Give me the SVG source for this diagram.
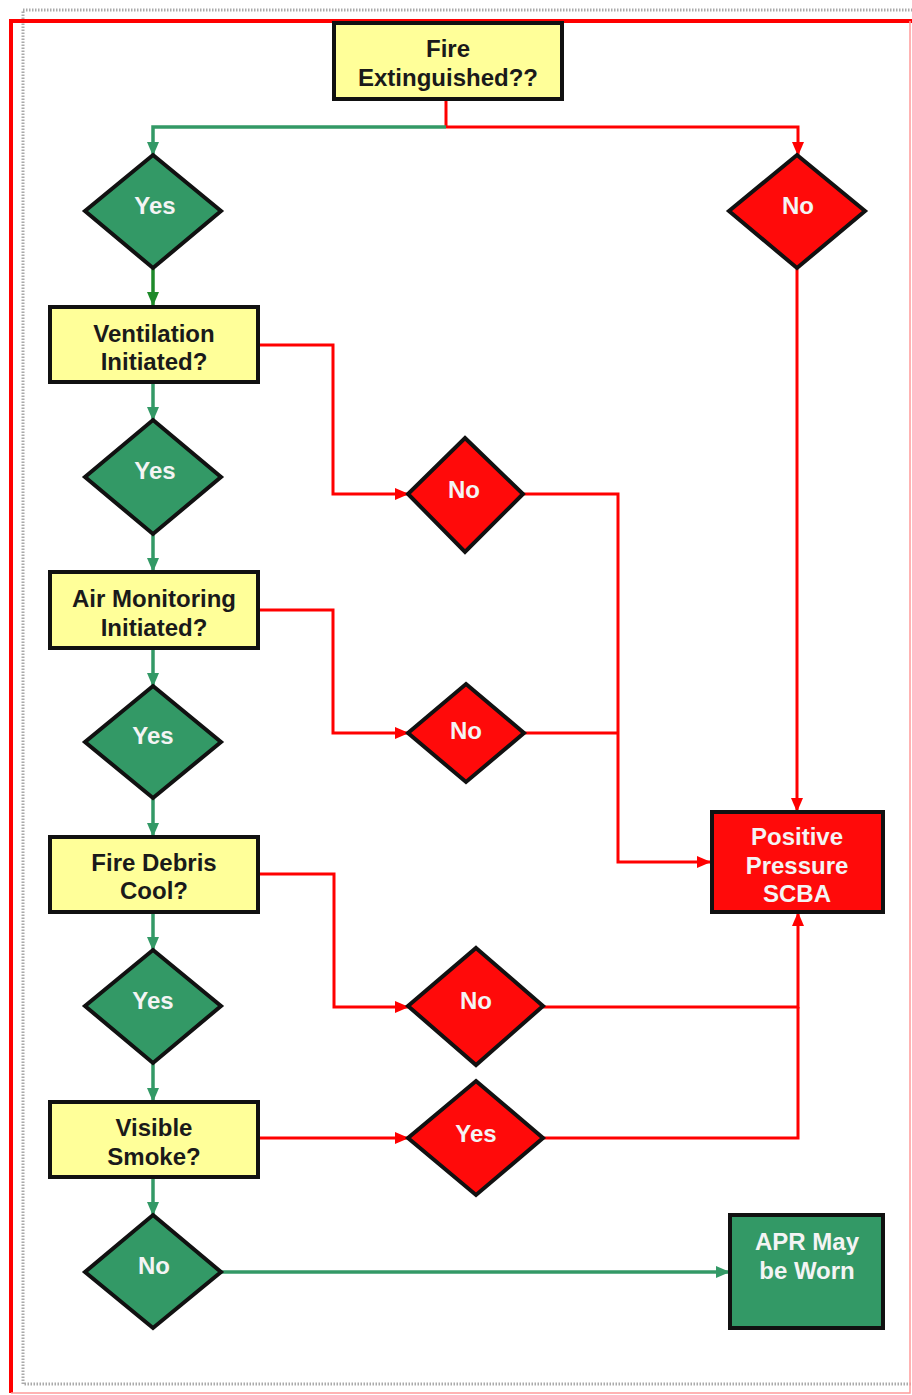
<svg xmlns="http://www.w3.org/2000/svg" width="912" height="1395" viewBox="0 0 912 1395">
<style>
text{font-family:"Liberation Sans",Arial,sans-serif;font-weight:bold;font-size:24px;text-anchor:middle}
.box{fill:#ffff99;stroke:#111;stroke-width:4}
.dk{fill:#1a1a1a}
.wt{fill:#f4f4f4}
.gd{fill:#339966;stroke:#111;stroke-width:4;stroke-linejoin:miter}
.rd{fill:#ff0a0a;stroke:#111;stroke-width:4;stroke-linejoin:miter}
.gl{fill:none;stroke:#339966;stroke-width:3.5}
.rl{fill:none;stroke:#ff0000;stroke-width:3}
</style>
<defs>
<marker id="ag" markerUnits="userSpaceOnUse" markerWidth="14" markerHeight="12" refX="13" refY="6" orient="auto"><path d="M0,0 L14,6 L0,12 z" fill="#339966"/></marker>
<marker id="adg" markerUnits="userSpaceOnUse" markerWidth="14" markerHeight="12" refX="13" refY="6" orient="auto"><path d="M0,0 L14,6 L0,12 z" fill="#1e8a2a"/></marker>
<marker id="ar" markerUnits="userSpaceOnUse" markerWidth="14" markerHeight="12" refX="13" refY="6" orient="auto"><path d="M0,0 L14,6 L0,12 z" fill="#ff0000"/></marker>
</defs>
<rect width="912" height="1395" fill="#ffffff"/>
<g id="frame">
<rect x="23" y="10" width="900" height="1374" fill="none" stroke="#aaaaaa" stroke-width="3" stroke-dasharray="1.5 1.5"/>
<path d="M11,1393 L11,21 L912,21" fill="none" stroke="#ff0000" stroke-width="4"/>
<path d="M910,21 L910,1393 L11,1393" fill="none" stroke="#ff9a9a" stroke-width="1.5"/>
</g>
<g id="connectors">
<path class="rl" d="M446,100 L446,127"/>
<path class="gl" d="M446,127 L153,127 L153,155" marker-end="url(#ag)"/>
<path class="rl" d="M446,127 L798,127 L798,155" marker-end="url(#ar)"/>
<path d="M153,268 L153,305" fill="none" stroke="#1e8a2a" stroke-width="3.5" marker-end="url(#adg)"/>
<path class="gl" d="M153,383 L153,420" marker-end="url(#ag)"/>
<path class="gl" d="M153,534 L153,571" marker-end="url(#ag)"/>
<path class="gl" d="M153,649 L153,686" marker-end="url(#ag)"/>
<path class="gl" d="M153,798 L153,836" marker-end="url(#ag)"/>
<path class="gl" d="M153,913 L153,950" marker-end="url(#ag)"/>
<path class="gl" d="M153,1063 L153,1101" marker-end="url(#ag)"/>
<path class="gl" d="M153,1178 L153,1215" marker-end="url(#ag)"/>
<path class="gl" d="M221,1272 L729,1272" marker-end="url(#ag)"/>
<path class="rl" d="M259,345 L333,345 L333,494 L408,494" marker-end="url(#ar)"/>
<path class="rl" d="M259,610 L333,610 L333,733 L408,733" marker-end="url(#ar)"/>
<path class="rl" d="M259,874 L334,874 L334,1007 L408,1007" marker-end="url(#ar)"/>
<path class="rl" d="M259,1138 L408,1138" marker-end="url(#ar)"/>
<path class="rl" d="M523,494 L618,494 L618,862 L710,862" marker-end="url(#ar)"/>
<path class="rl" d="M524,733 L618,733"/>
<path class="rl" d="M797,268 L797,811" marker-end="url(#ar)"/>
<path class="rl" d="M543,1138 L798,1138 L798,1007"/>
<path class="rl" d="M543,1007 L798,1007 L798,913" marker-end="url(#ar)"/>
</g>
<g id="fire-extinguished">
<rect class="box" x="334" y="23" width="228" height="76"/>
<text class="dk" x="448" y="57">Fire</text>
<text class="dk" x="448" y="86">Extinguished??</text>
</g>
<g id="yes1">
<path class="gd" d="M153,155 L221,211 L153,268 L85,211 z"/>
<text class="wt" x="155" y="214">Yes</text>
</g>
<g id="no1">
<path class="rd" d="M797,155 L865,211 L797,268 L729,211 z"/>
<text class="wt" x="798" y="214">No</text>
</g>
<g id="ventilation">
<rect class="box" x="50" y="307" width="208" height="75"/>
<text class="dk" x="154" y="342">Ventilation</text>
<text class="dk" x="154" y="370">Initiated?</text>
</g>
<g id="yes2">
<path class="gd" d="M153,420 L221,477 L153,534 L85,477 z"/>
<text class="wt" x="155" y="479">Yes</text>
</g>
<g id="no2">
<path class="rd" d="M465,438 L523,494 L465,552 L408,494 z"/>
<text class="wt" x="464" y="498">No</text>
</g>
<g id="air-monitoring">
<rect class="box" x="50" y="572" width="208" height="76"/>
<text class="dk" x="154" y="607">Air Monitoring</text>
<text class="dk" x="154" y="636">Initiated?</text>
</g>
<g id="yes3">
<path class="gd" d="M153,686 L221,742 L153,798 L85,742 z"/>
<text class="wt" x="153" y="744">Yes</text>
</g>
<g id="no3">
<path class="rd" d="M466,684 L524,733 L466,782 L408,733 z"/>
<text class="wt" x="466" y="739">No</text>
</g>
<g id="fire-debris">
<rect class="box" x="50" y="837" width="208" height="75"/>
<text class="dk" x="154" y="871">Fire Debris</text>
<text class="dk" x="154" y="899">Cool?</text>
</g>
<g id="yes4">
<path class="gd" d="M153,950 L221,1006 L153,1063 L85,1006 z"/>
<text class="wt" x="153" y="1009">Yes</text>
</g>
<g id="no4">
<path class="rd" d="M476,948 L543,1006 L476,1065 L408,1006 z"/>
<text class="wt" x="476" y="1009">No</text>
</g>
<g id="visible-smoke">
<rect class="box" x="50" y="1102" width="208" height="75"/>
<text class="dk" x="154" y="1136">Visible</text>
<text class="dk" x="154" y="1165">Smoke?</text>
</g>
<g id="yes5">
<path class="rd" d="M476,1081 L543,1138 L476,1195 L408,1138 z"/>
<text class="wt" x="476" y="1142">Yes</text>
</g>
<g id="no5">
<path class="gd" d="M153,1215 L221,1272 L153,1328 L85,1272 z"/>
<text class="wt" x="154" y="1274">No</text>
</g>
<g id="scba">
<rect x="712" y="812" width="171" height="100" fill="#ff0a0a" stroke="#111" stroke-width="4"/>
<text class="wt" x="797" y="845">Positive</text>
<text class="wt" x="797" y="874">Pressure</text>
<text class="wt" x="797" y="902">SCBA</text>
</g>
<g id="apr">
<rect x="730" y="1215" width="153" height="113" fill="#339966" stroke="#111" stroke-width="4"/>
<text class="wt" x="807" y="1250">APR May</text>
<text class="wt" x="807" y="1279">be Worn</text>
</g>
</svg>
